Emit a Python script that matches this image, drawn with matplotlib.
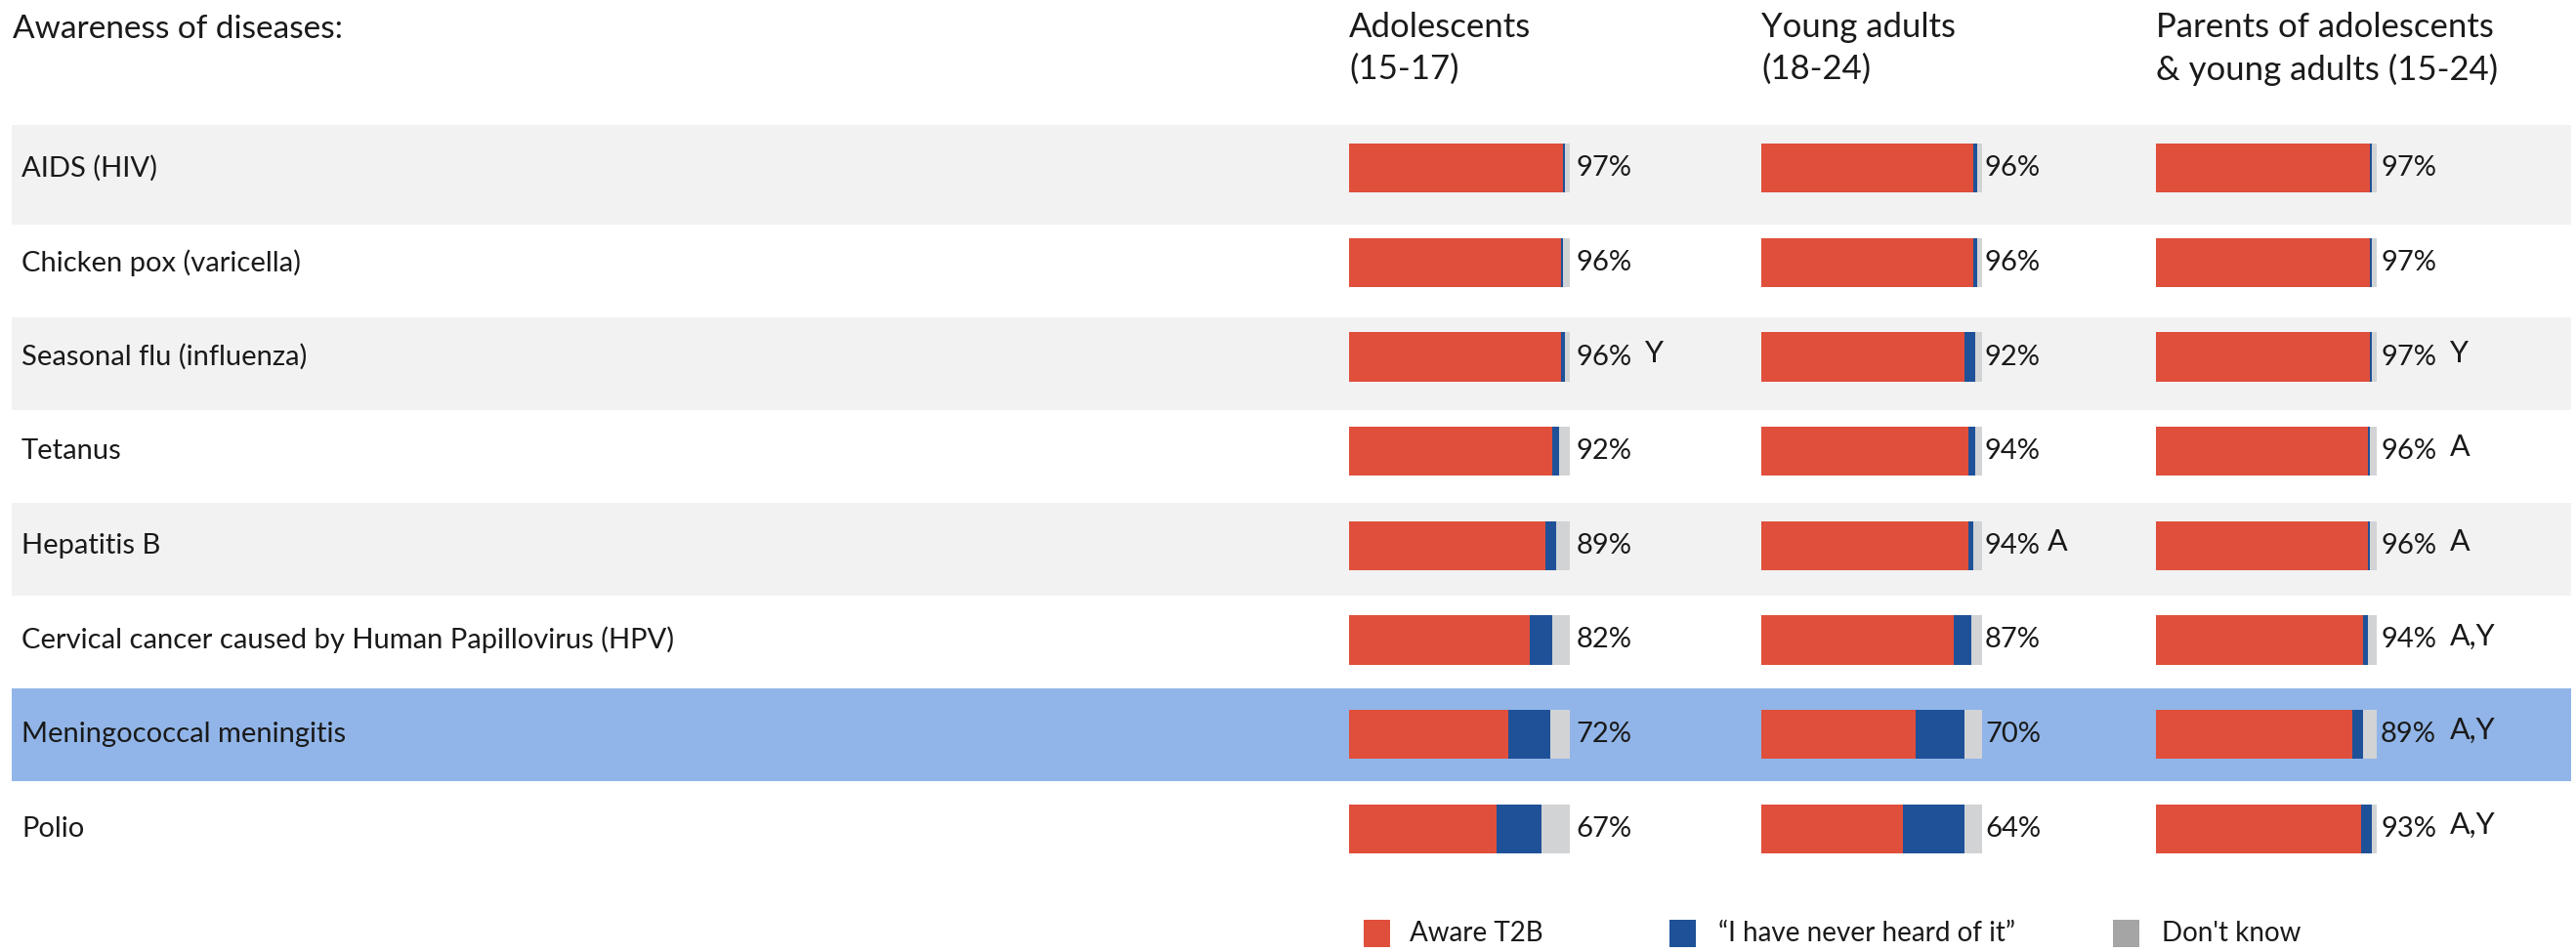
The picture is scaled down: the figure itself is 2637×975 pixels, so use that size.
import matplotlib
matplotlib.use("Agg")
import matplotlib.pyplot as plt

# data
diseases = ["AIDS (HIV)", "Chicken pox (varicella)", "Seasonal flu (influenza)", "Tetanus",
            "Hepatitis B", "Cervical cancer caused by Human Papillovirus (HPV)",
            "Meningococcal meningitis", "Polio"]
groups = ["Adolescents\n(15-17)", "Young adults\n(18-24)",
          "Parents of adolescents\n& young adults (15-24)"]

aware_adol = [97, 96, 96, 92, 89, 82, 72, 67]
never_adol = [1, 1, 2, 3, 5, 10, 19, 20]
dk_adol = [2, 3, 2, 5, 6, 8, 9, 13]
sig_adol = ["", "", "Y", "", "", "", "", ""]

aware_young = [96, 96, 92, 94, 94, 87, 70, 64]
never_young = [2, 2, 5, 3, 2, 8, 22, 28]
dk_young = [2, 2, 3, 3, 4, 5, 8, 8]
sig_young = ["", "", "", "", "A", "", "", ""]

aware_par = [97, 97, 97, 96, 96, 94, 89, 93]
never_par = [1, 1, 1, 1, 1, 2, 5, 5]
dk_par = [2, 2, 2, 3, 3, 4, 6, 2]
sig_par = ["", "", "Y", "A", "A", "A,Y", "A,Y", "A,Y"]

legend_labels = ["Aware T2B", "\u201cI have never heard of it\u201d", "Don't know"]

RED = "#E04F3B"
BLUE = "#1F5199"
LGRAY = "#D1D3D5"
BAND = "#F2F2F2"
HILITE = "#91B5E8"
LEG_GRAY = "#A5A5A5"
TXT = "#1a1a1a"
highlight_row = 6

plt.rcParams["font.family"] = ["Lato", "DejaVu Sans"]

W, H = 2637, 975
fig = plt.figure(figsize=(W / 100, H / 100), dpi=100)


def fx(px):
    return px / W


def fy(py):
    return 1 - py / H


n = len(diseases)

# background stripes (pixel coordinates)
bg = fig.add_axes([0, 0, 1, 1])
bg.set_xlim(0, W)
bg.set_ylim(H, 0)
bg.axis("off")
band_start, band_h = 135, 95
for i in range(n):
    y0 = band_start + i * band_h
    y1 = y0 + band_h
    if i == 0:
        y0 = 128
    if i == highlight_row:
        bg.add_patch(plt.Rectangle((12, y0), 2620, y1 - y0, color=HILITE, lw=0))
    elif i % 2 == 0:
        bg.add_patch(plt.Rectangle((12, y0), 2620, y1 - y0, color=BAND, lw=0))

top, bottom = 124, 897

# row labels
rows = fig.add_axes([0, fy(bottom), 1, (bottom - top) / H], facecolor="none")
rows.set_xlim(0, W)
rows.set_ylim(n - 0.5, -0.5)
rows.axis("off")
for i, name in enumerate(diseases):
    rows.text(22, i, name, fontsize=21, va="center", ha="left", color=TXT)

fig.text(fx(13), fy(30), "Awareness of diseases:", fontsize=24, va="center", ha="left", color=TXT)

panels = [
    (groups[0], aware_adol, never_adol, dk_adol, sig_adol, 1381, 3.0, 34),
    (groups[1], aware_young, never_young, dk_young, sig_young, 1803, 1.3, 29.5),
    (groups[2], aware_par, never_par, dk_par, sig_par, 2207, 1.8, 33),
]
bar_w = 226

for title, aware, never, dk, sig, x0, off, sig_off in panels:
    ax = fig.add_axes([fx(x0), fy(bottom), bar_w / W, (bottom - top) / H], facecolor="none")
    ax.set_xlim(0, 100)
    ax.set_ylim(n - 0.5, -0.5)
    ax.axis("off")
    y = list(range(n))
    left2 = [a + b for a, b in zip(aware, never)]
    ax.barh(y, aware, height=0.52, color=RED, lw=0)
    ax.barh(y, never, left=aware, height=0.52, color=BLUE, lw=0)
    ax.barh(y, dk, left=left2, height=0.52, color=LGRAY, lw=0)
    for i in y:
        ax.text(100 + off, i, f"{aware[i]}%", fontsize=21, va="center", ha="left",
                color=TXT, clip_on=False)
        if sig[i]:
            ax.text(100 + sig_off, i - 0.04, sig[i], fontsize=22, va="center", ha="left",
                    color=TXT, clip_on=False)
    fig.text(fx(x0), fy(12), title, fontsize=25, va="top", ha="left",
             color=TXT, linespacing=1.4)

# legend
leg_x = [(1396, 1443), (1709, 1759), (2163, 2213)]
leg_c = [RED, BLUE, LEG_GRAY]
for (sx, tx), c, lab in zip(leg_x, leg_c, legend_labels):
    bg.add_patch(plt.Rectangle((sx, 942), 27, 28, color=c, lw=0))
    bg.text(tx, 956, lab, fontsize=20, va="center", ha="left", color=TXT)

fig.savefig("out.png", dpi=100)
